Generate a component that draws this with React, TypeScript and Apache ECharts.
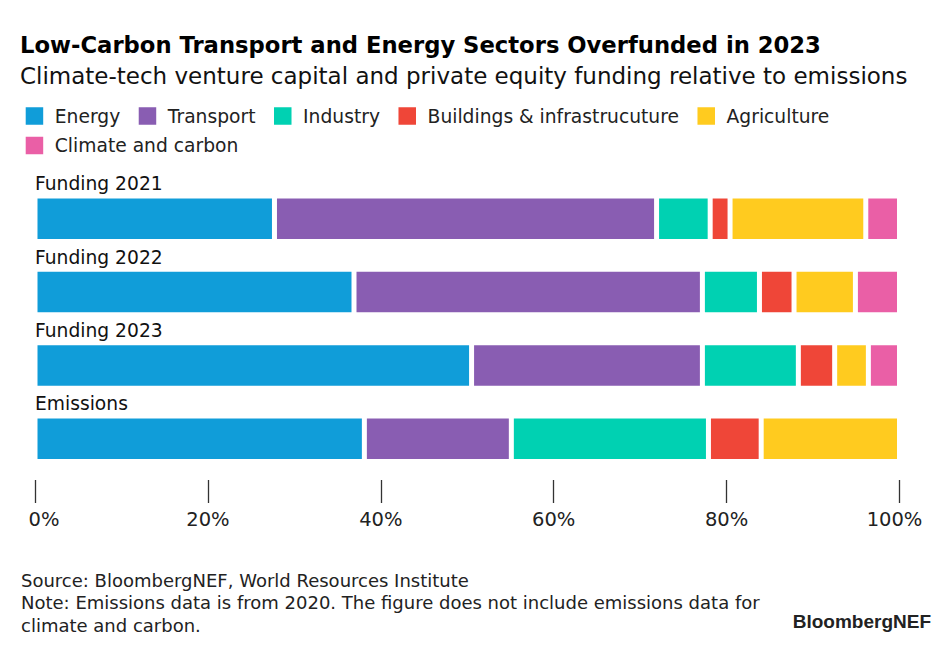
import React, { useEffect, useRef } from "react";
import * as echarts from "echarts";

const categories = ["Funding 2021", "Funding 2022", "Funding 2023", "Emissions"];
const sectorNames = [
  "Energy",
  "Transport",
  "Industry",
  "Buildings & infrastrucuture",
  "Agriculture",
  "Climate and carbon",
];
const energy = [27.7, 36.9, 50.5, 38.1];
const transport = [44.2, 40.3, 26.7, 17.0];
const industry = [6.2, 6.6, 11.1, 22.8];
const buildings = [2.3, 4.0, 4.2, 6.1];
const agriculture = [15.7, 7.1, 3.9, 16.0];
const climate = [3.9, 5.1, 3.6, 0];
const tickValues = [0, 20, 40, 60, 80, 100];

const colors = ["#109dd9", "#895db2", "#00d1b2", "#ef4638", "#ffcb1f", "#ea5fa6"];
const FONT = "'DejaVu Sans', sans-serif";
const LOGO_FONT = "'Liberation Sans', Arial, sans-serif";

export default function App() {
  const ref = useRef<HTMLDivElement>(null);
  useEffect(() => {
    if (!ref.current) return;
    const chart = echarts.init(ref.current, undefined, { renderer: "svg" });
    const seriesData = [energy, transport, industry, buildings, agriculture, climate];
    const legendText = { fontSize: 18.7, lineHeight: 20, color: "#222", fontFamily: FONT, padding: [0, 0, 0, 6.6] };
    const option: any = {
      animation: false,
      backgroundColor: "#ffffff",
      textStyle: { fontFamily: FONT },
      grid: { left: 35, right: 52.5, top: 182, bottom: 176.5, containLabel: false },
      xAxis: {
        type: "value",
        min: tickValues[0],
        max: tickValues[tickValues.length - 1],
        interval: 20,
        offset: 4.5,
        axisLine: { show: false },
        splitLine: { show: false },
        axisTick: { show: true, length: 23, lineStyle: { color: "#333", width: 1.3 } },
        axisLabel: {
          margin: 29,
          fontSize: 19.5,
          color: "#222",
          fontFamily: FONT,
          formatter: (v: number) => {
            if (v === 0) return "{first|" + v + "%}";
            if (v === 100) return "{last|" + v + "%}";
            return v + "%";
          },
          rich: {
            first: { fontSize: 19.5, color: "#222", fontFamily: FONT, padding: [0, 0, 0, 18] },
            last: { fontSize: 19.5, color: "#222", fontFamily: FONT, padding: [0, 10, 0, 0] },
          },
        },
      },
      yAxis: {
        type: "category",
        data: categories,
        inverse: true,
        axisLine: { show: false },
        axisTick: { show: false },
        splitLine: { show: false },
        axisLabel: {
          inside: true,
          margin: 0,
          align: "left",
          verticalAlign: "bottom",
          fontSize: 18.7,
          lineHeight: 20,
          color: "#111",
          fontFamily: FONT,
          padding: [0, 0, 25, 0],
        },
        z: 10,
      },
      legend: [
        {
          data: sectorNames.slice(0, 5),
          left: 20.7,
          top: 101,
          orient: "horizontal",
          icon: "rect",
          itemWidth: 17.5,
          itemHeight: 17.5,
          itemGap: 18.5,
          itemStyle: { borderWidth: 0 },
          textStyle: legendText,
          selectedMode: false,
        },
        {
          data: sectorNames.slice(5),
          left: 20.7,
          top: 130.5,
          orient: "horizontal",
          icon: "rect",
          itemWidth: 17.5,
          itemHeight: 17.5,
          itemGap: 18.5,
          itemStyle: { borderWidth: 0 },
          textStyle: legendText,
          selectedMode: false,
        },
      ],
      series: sectorNames.map((name, i) => ({
        name,
        type: "bar",
        stack: "total",
        barWidth: 45.5,
        data: seriesData[i],
        itemStyle: { color: colors[i], borderColor: "#ffffff", borderWidth: 2.5 },
        emphasis: { disabled: true },
      })),
      graphic: [
        {
          type: "text",
          left: 20,
          top: 33,
          style: { text: "Low-Carbon Transport and Energy Sectors Overfunded in 2023", font: "bold 22.7px " + FONT, fill: "#000" },
        },
        {
          type: "text",
          left: 20,
          top: 64.5,
          style: { text: "Climate-tech venture capital and private equity funding relative to emissions", font: "23px " + FONT, fill: "#111" },
        },
        {
          type: "text",
          left: 21,
          top: 569,
          style: {
            text: "Source: BloombergNEF, World Resources Institute\nNote: Emissions data is from 2020. The figure does not include emissions data for\nclimate and carbon.",
            font: "18px " + FONT,
            lineHeight: 22.5,
            fill: "#222",
          },
        },
        {
          type: "text",
          right: 21,
          top: 612,
          style: { text: "BloombergNEF", font: "bold 19px " + LOGO_FONT, fill: "#222" },
        },
      ],
    };
    chart.setOption(option);
    return () => chart.dispose();
  }, []);
  return <div ref={ref} style={{ width: 952, height: 652, margin: -8 }} />;
}
